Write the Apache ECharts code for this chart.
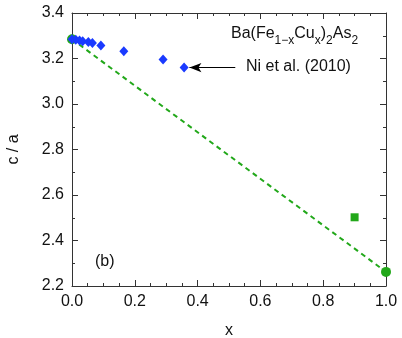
<!DOCTYPE html>
<html>
<head>
<meta charset="utf-8">
<script src="https://cdn.jsdelivr.net/npm/echarts@6/dist/echarts.min.js"></script>
<style>
  html, body { margin: 0; padding: 0; background: #fff; }
  #chart { width: 402px; height: 338px; }
</style>
</head>
<body>
<div id="chart"></div>
<script>
// Ni et al. (2010) points: x, c/a
var niX = [0, 0.012, 0.024, 0.034, 0.052, 0.065, 0.092, 0.165, 0.29, 0.357];
var niCa = [3.285, 3.282, 3.279, 3.276, 3.272, 3.268, 3.257, 3.232, 3.196, 3.16];
// end members (circles) and the dashed line through them
var endX = [0, 1.0];
var endCa = [3.285, 2.262];
// single square point
var sqX = [0.9];
var sqCa = [2.502];
// arrow pointing at the last Ni point
var arrowFrom = [0.52, 3.16];
var arrowTo = [0.374, 3.16];

var xTicks = [0, 0.2, 0.4, 0.6, 0.8, 1.0];
var yTicks = [2.2, 2.4, 2.6, 2.8, 3.0, 3.2, 3.4];

var FONT = 'Liberation Sans, Arial, sans-serif';
var BLUE = '#1a3aff';
var GREEN = '#22a81a';
var INK = '#111';

function pairs(xs, ys) {
  return xs.map(function (x, i) { return [x, ys[i]]; });
}

var chart = echarts.init(document.getElementById('chart'));

var axisLine = { show: true, onZero: false, lineStyle: { color: '#333', width: 1 } };
var tick = { show: true, inside: true, length: 6, lineStyle: { color: '#333' } };
var minor = function (n) {
  return { show: true, splitNumber: n, length: 3, lineStyle: { color: '#333' } };
};

var option = {
  animation: false,
  grid: { left: 72, right: 16, top: 13, bottom: 52, containLabel: false, outerBoundsMode: 'none' },
  xAxis: [{
    type: 'value',
    min: xTicks[0], max: xTicks[xTicks.length - 1], interval: 0.2,
    name: 'x', nameLocation: 'middle', nameGap: 37,
    nameTextStyle: { fontFamily: FONT, fontSize: 16, color: INK },
    axisLine: axisLine, axisTick: tick, minorTick: minor(4),
    splitLine: { show: false },
    axisLabel: { fontFamily: FONT, fontSize: 16, color: INK, margin: 8,
      formatter: function (v) { return v.toFixed(1); } }
  }, {
    type: 'value', position: 'top',
    min: xTicks[0], max: xTicks[xTicks.length - 1], interval: 0.2,
    axisLine: axisLine, axisTick: tick, minorTick: minor(4),
    splitLine: { show: false }, axisLabel: { show: false }
  }],
  yAxis: [{
    type: 'value',
    min: yTicks[0], max: yTicks[yTicks.length - 1], interval: 0.2,
    name: 'c / a', nameLocation: 'middle', nameGap: 50,
    nameTextStyle: { fontFamily: FONT, fontSize: 16, color: INK },
    axisLine: axisLine, axisTick: tick, minorTick: minor(2),
    splitLine: { show: false },
    axisLabel: { fontFamily: FONT, fontSize: 16, color: INK, margin: 8,
      formatter: function (v) { return v.toFixed(1); } }
  }, {
    type: 'value', position: 'right',
    min: yTicks[0], max: yTicks[yTicks.length - 1], interval: 0.2,
    axisLine: axisLine, axisTick: tick, minorTick: minor(2),
    splitLine: { show: false }, axisLabel: { show: false }
  }],
  series: [{
    name: 'fit',
    type: 'line',
    data: pairs(endX, endCa),
    symbol: 'none',
    lineStyle: { color: GREEN, width: 2, type: [5, 4] },
    z: 2
  }, {
    name: 'ends',
    type: 'scatter',
    data: pairs(endX, endCa),
    symbol: 'circle', symbolSize: 10,
    itemStyle: { color: GREEN, opacity: 1 },
    clip: false,
    z: 3
  }, {
    name: 'square',
    type: 'scatter',
    data: pairs(sqX, sqCa),
    symbol: 'rect', symbolSize: 8,
    itemStyle: { color: GREEN, opacity: 1 },
    z: 3
  }, {
    name: 'Ni',
    type: 'scatter',
    data: pairs(niX, niCa),
    symbol: 'diamond', symbolSize: [9, 10],
    itemStyle: { color: BLUE, opacity: 1 },
    clip: false,
    z: 4,
    markLine: {
      silent: true,
      symbol: ['none', 'arrow'],
      symbolSize: [7, 12],
      lineStyle: { color: '#000', width: 1.2, type: 'solid' },
      label: { show: false },
      data: [[{ coord: arrowFrom }, { coord: arrowTo }]]
    }
  }],
  graphic: [{
    type: 'text', left: 246, top: 59,
    style: { text: 'Ni et al. (2010)', font: '16px ' + FONT, fill: INK }
  }, {
    type: 'text', left: 231, top: 26,
    style: {
      text: '{a|Ba(Fe}{s|1\u2212x}{a|Cu}{s|x}{a|)}{s|2}{a|As}{s|2}',
      fill: INK,
      rich: {
        a: { fontFamily: FONT, fontSize: 16, lineHeight: 18, verticalAlign: 'top', fill: INK },
        s: { fontFamily: FONT, fontSize: 12, lineHeight: 12, padding: [9, 0, 0, 0], verticalAlign: 'top', fill: INK }
      }
    }
  }, {
    type: 'text', left: 95, top: 254,
    style: { text: '(b)', font: '16px ' + FONT, fill: INK }
  }]
};

chart.setOption(option);
</script>
</body>
</html>
